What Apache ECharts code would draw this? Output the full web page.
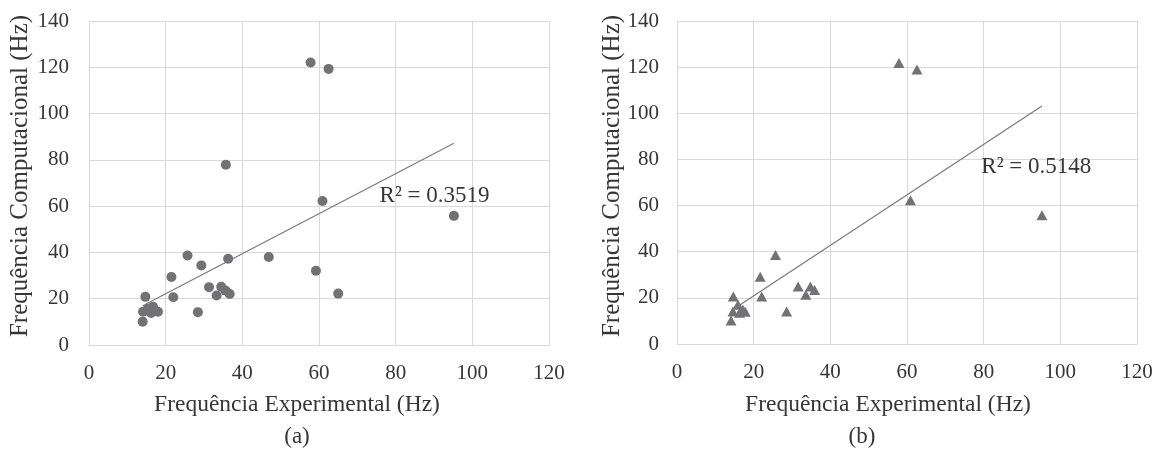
<!DOCTYPE html>
<html>
<head>
<meta charset="utf-8">
<script src="https://cdn.jsdelivr.net/npm/echarts@6/dist/echarts.min.js"></script>
<style>
  html, body { margin: 0; padding: 0; background: #ffffff; }
  #chart { width: 1165px; height: 450px; }
</style>
</head>
<body>
<div id="chart"></div>
<script>
// Axis ticks (Hz)
const xTicks = [0, 20, 40, 60, 80, 100, 120];
const yTicks = [0, 20, 40, 60, 80, 100, 120, 140];

// (a) experimental vs computed frequencies
const expA  = [57.8, 62.5, 35.7, 60.9, 25.7, 36.3, 46.9, 29.3, 21.5, 59.2, 31.3, 34.5, 35.6,
               36.7, 33.3, 22.0, 14.7, 65.0, 28.4, 14.0, 14.1, 15.4, 16.7, 18.0, 16.2, 95.2];
const compA = [122.1, 119.3, 77.9, 62.2, 38.7, 37.3, 38.0, 34.4, 29.4, 32.1, 25.0, 25.2, 23.5,
               22.0, 21.4, 20.6, 20.8, 22.2, 14.2, 10.1, 14.4, 15.8, 16.5, 14.4, 13.8, 55.8];

// (b) experimental vs computed frequencies
const expB  = [57.9, 62.6, 60.9, 95.2, 25.7, 21.7, 31.6, 34.8, 35.9, 33.6, 22.1, 14.7, 28.6,
               14.1, 14.6, 15.9, 17.2, 16.3, 17.8];
const compB = [121.8, 119.0, 62.3, 55.8, 38.6, 29.2, 24.9, 24.9, 23.4, 21.3, 20.6, 20.6, 14.1,
               10.2, 14.1, 17.0, 14.8, 13.5, 14.0];

const r2A = 'R² = 0.3519';
const r2B = 'R² = 0.5148';

const xTitle = 'Frequência Experimental (Hz)';
const yTitle = 'Frequência Computacional (Hz)';
const panelA = '(a)';
const panelB = '(b)';

// Least-squares linear trend, drawn across the range of x
function trend(xs, ys) {
  const n = xs.length;
  const mx = xs.reduce((s, v) => s + v, 0) / n;
  const my = ys.reduce((s, v) => s + v, 0) / n;
  let sxy = 0, sxx = 0;
  for (let i = 0; i < n; i++) {
    sxy += (xs[i] - mx) * (ys[i] - my);
    sxx += (xs[i] - mx) * (xs[i] - mx);
  }
  const b = sxy / sxx, a = my - b * mx;
  const x0 = Math.min(...xs), x1 = Math.max(...xs);
  return [[x0, a + b * x0], [x1, a + b * x1]];
}

const zip = (xs, ys) => xs.map((x, i) => [x, ys[i]]);

const FONT = 'Liberation Serif';
const TEXT = '#363636';
const GRID = '#d9d9d9';
const MARK = '#717176';

function xAxis(gridIndex) {
  return {
    gridIndex, type: 'value',
    min: xTicks[0], max: xTicks[xTicks.length - 1], interval: xTicks[1] - xTicks[0],
    axisLine: { show: true, lineStyle: { color: GRID, width: 1 } },
    axisTick: { show: false },
    splitLine: { show: true, lineStyle: { color: GRID, width: 1 } },
    axisLabel: { margin: 18, color: TEXT, fontFamily: FONT, fontSize: 21 }
  };
}
function yAxis(gridIndex, margin) {
  return {
    gridIndex, type: 'value',
    min: yTicks[0], max: yTicks[yTicks.length - 1], interval: yTicks[1] - yTicks[0],
    axisLine: { show: true, lineStyle: { color: GRID, width: 1 } },
    axisTick: { show: false },
    splitLine: { show: true, lineStyle: { color: GRID, width: 1 } },
    axisLabel: { margin, color: TEXT, fontFamily: FONT, fontSize: 21 }
  };
}

function trendSeries(idx, xs, ys, label, at) {
  return {
    type: 'line', xAxisIndex: idx, yAxisIndex: idx,
    data: trend(xs, ys), symbol: 'none', z: 3,
    lineStyle: { color: '#7a7a7a', width: 1.2 },
    markPoint: {
      symbol: 'circle', symbolSize: 0, silent: true,
      data: [{ coord: at }],
      label: { show: true, position: 'right', distance: 0, formatter: label,
               color: TEXT, fontFamily: FONT, fontSize: 23 }
    }
  };
}

function textEl(text, x, y, size, rotation) {
  return {
    type: 'text', x, y, rotation: rotation || 0, silent: true,
    style: { text, fill: TEXT, font: size + 'px "' + FONT + '"', align: 'center', verticalAlign: 'middle' }
  };
}

const chart = echarts.init(document.getElementById('chart'), null, { renderer: 'canvas' });
chart.setOption({
  animation: false,
  backgroundColor: '#ffffff',
  grid: [
    { left: 89, top: 21, width: 460, height: 324 },
    { left: 677, top: 21, width: 460, height: 323 }
  ],
  xAxis: [xAxis(0), xAxis(1)],
  yAxis: [yAxis(0, 20), yAxis(1, 18)],
  series: [
    { type: 'scatter', xAxisIndex: 0, yAxisIndex: 0, data: zip(expA, compA),
      symbol: 'circle', symbolSize: 10, itemStyle: { color: MARK, opacity: 1 }, z: 2 },
    trendSeries(0, expA, compA, r2A, [75.8, 64.3]),
    { type: 'scatter', xAxisIndex: 1, yAxisIndex: 1, data: zip(expB, compB),
      symbol: 'triangle', symbolSize: [11, 10], itemStyle: { color: MARK, opacity: 1 }, z: 2 },
    trendSeries(1, expB, compB, r2B, [79.4, 76.7])
  ],
  graphic: [
    textEl(xTitle, 297, 405, 23.5),
    textEl(panelA, 297, 437, 23),
    textEl(yTitle, 20, 176, 25, Math.PI / 2),
    textEl(xTitle, 888, 405, 23.5),
    textEl(panelB, 862, 437, 23),
    textEl(yTitle, 612, 176, 25, Math.PI / 2)
  ]
});
</script>
</body>
</html>
